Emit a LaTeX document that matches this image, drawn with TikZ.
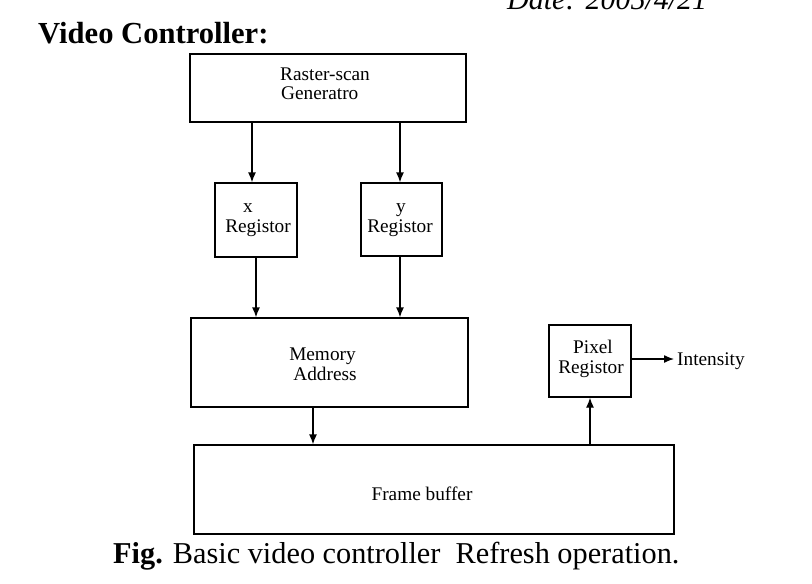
\documentclass[tikz,border=0pt]{standalone}
\usepackage{fontspec}
\setmainfont{Liberation Serif}
\usetikzlibrary{arrows.meta}
\tikzset{
  box/.style={draw, line width=1.3pt, rectangle, inner sep=0pt},
  txt/.style={inner sep=0pt, font=\fontsize{19.3}{20}\selectfont},
  arr/.style={line width=1.3pt, -{Latex[length=10pt,width=8pt]}},
}
\begin{document}
\begin{tikzpicture}[x=1pt, y=-1pt]
\useasboundingbox (0,0) rectangle (812,584);
% header / caption
\node[inner sep=0pt, anchor=base west, font=\fontsize{30}{32}\selectfont\itshape] (date) at (507,9) {Date: 2005/4/21};
\node[inner sep=0pt, anchor=base west, font=\fontsize{30.6}{32}\selectfont\bfseries] (title) at (38,43) {Video Controller:};
\node[inner sep=0pt, anchor=base west, font=\fontsize{30.3}{32}\selectfont] (cap) at (113,563) {\textbf{Fig.} Basic video controller\ \ Refresh operation.};
% boxes
\node[box, minimum width=276pt, minimum height=68pt] (rs) at (328,88) {};
\node[box, minimum width=82pt, minimum height=74pt] (xr) at (256,220) {};
\node[box, minimum width=81pt, minimum height=73pt] (yr) at (401.5,219.5) {};
\node[box, minimum width=277pt, minimum height=89pt] (ma) at (329.5,362.5) {};
\node[box, minimum width=480pt, minimum height=89pt] (fb) at (434,489.5) {};
\node[box, minimum width=82pt, minimum height=72pt] (pr) at (590,361) {};
% texts
\node[txt, anchor=base west] (rs1) at (280,80) {Raster-scan};
\node[txt, anchor=base west] (rs2) at (281,99) {Generatro};
\node[txt, anchor=base] (xr1) at (248,212) {x};
\node[txt, anchor=base] (xr2) at (258,232) {Registor};
\node[txt, anchor=base] (yr1) at (401,212) {y};
\node[txt, anchor=base] (yr2) at (400,232) {Registor};
\node[txt, anchor=base] (ma1) at (322.5,360) {Memory};
\node[txt, anchor=base] (ma2) at (325,380) {Address};
\node[txt, anchor=base] (fb1) at (422,500) {Frame buffer};
\node[txt, anchor=base] (pr1) at (593,353) {Pixel};
\node[txt, anchor=base] (pr2) at (591,373) {Registor};
\node[txt, anchor=base west] (int) at (677,365) {Intensity};
% connectors
\draw[arr] ([xshift=-4pt]xr.north |- rs.south) -- ([xshift=-4pt]xr.north);
\draw[arr] ([xshift=-1.5pt]yr.north |- rs.south) -- ([xshift=-1.5pt]yr.north);
\draw[arr] (xr.south) -- (xr.south |- ma.north);
\draw[arr] ([xshift=-1.5pt]yr.south) -- ([xshift=-1.5pt]yr.south |- ma.north);
\draw[arr] ([xshift=-16.5pt]ma.south) -- ([xshift=-16.5pt]ma.south |- fb.north);
\draw[arr] (pr.south |- fb.north) -- (pr.south);
\draw[arr] ([yshift=2pt]pr.east) -- ([xshift=-3pt,yshift=2pt]int.west |- pr.east);
\end{tikzpicture}
\end{document}
